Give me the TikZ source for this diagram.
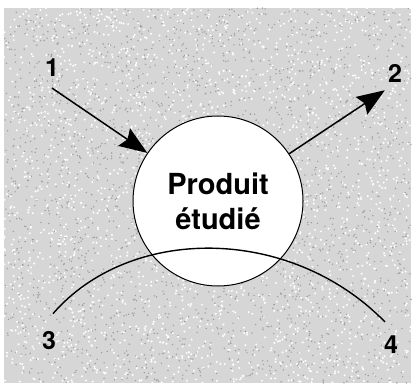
\documentclass[tikz,border=0pt]{standalone}
\usepackage{fontspec}
\setsansfont{TeX Gyre Heros}
\usetikzlibrary{calc,arrows.meta,positioning}

\begin{document}
\begin{tikzpicture}[x=1pt,y=-1pt,
    num/.style={font=\sffamily\bfseries\fontsize{25}{25}\selectfont,inner sep=0pt},
    flow/.style={line width=1.5pt,-{Stealth[length=28pt,width=21pt,inset=4pt]}}]
  \useasboundingbox (0,0) rectangle (414,390);
  % speckled grey ground
  \fill[black!16] (4,8) rectangle (411,383);
  \pgfmathsetseed{7}
  \foreach \i in {1,...,2400} {
    \fill[white] ($(4,8)+(407*rnd,375*rnd)$) circle (1.1pt);
    \fill[black!38] ($(4,8)+(407*rnd,375*rnd)$) circle (0.8pt);
  }
  \node[circle,draw,line width=1pt,fill=white,minimum size=170pt,inner sep=0pt,
        font=\sffamily\bfseries\fontsize{29}{35}\selectfont,align=center]
        (prod) at (218,201) {Produit\\étudié};
  \node[num] (one) at (52,68) {1};
  \node[num] (two) at (395,73) {2};
  \node[num] (three) at (49,341) {3};
  \node[num] (four) at (391,345) {4};
  \coordinate (in) at ($(one.south)+(0,11)$);
  \coordinate (out) at ($(two.south west)+(-3,8)$);
  \coordinate (s3) at ($(three.north)+(4,-18)$);
  \coordinate (e4) at ($(four.north)+(-6,-14)$);
  \draw[flow] (in) -- (prod);
  \draw[flow] (prod) -- (out);
  \draw[line width=1.4pt] (s3) .. controls (130,225) and (290,225) .. (e4);
\end{tikzpicture}
\end{document}
